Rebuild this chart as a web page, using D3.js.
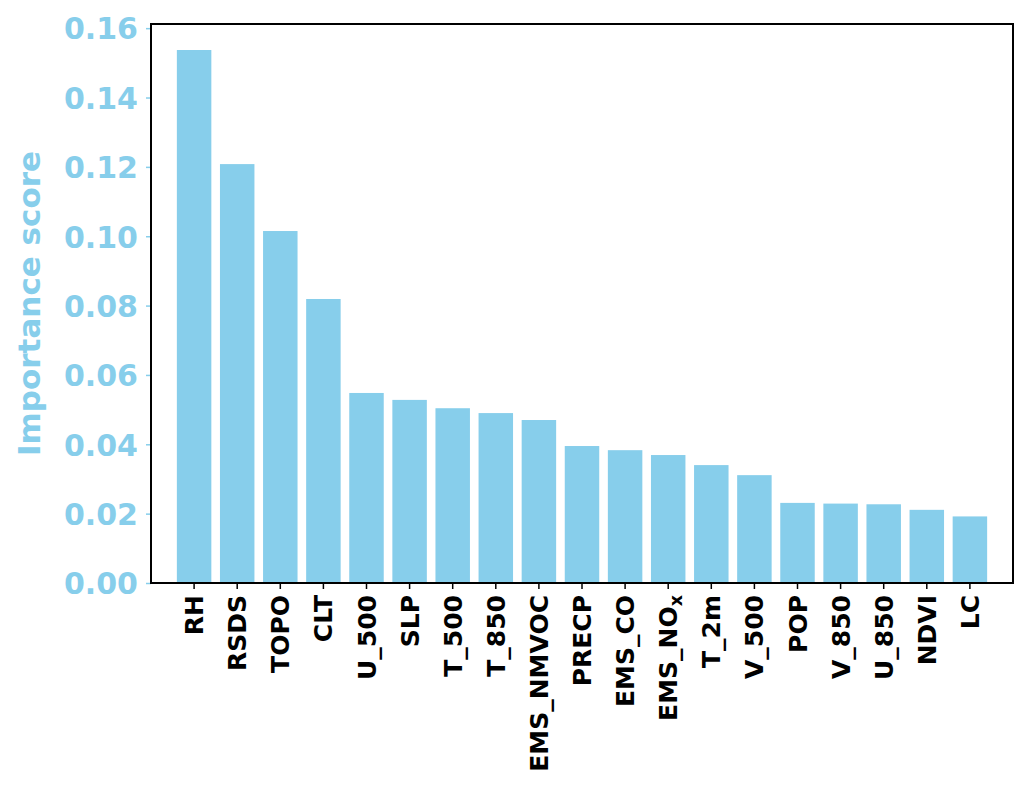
<!DOCTYPE html>
<html>
<head>
<meta charset="utf-8">
<script src="https://cdn.jsdelivr.net/npm/d3@7"></script>
<style>
  html, body { margin: 0; padding: 0; background: #fff; }
  svg { display: block; font-family: "DejaVu Sans", sans-serif; }
</style>
</head>
<body>
<svg id="chart" width="1033" height="793"></svg>
<script>
const categories = ["RH","RSDS","TOPO","CLT","U_500","SLP","T_500","T_850","EMS_NMVOC","PRECP","EMS_CO","EMS_NOx","T_2m","V_500","POP","V_850","U_850","NDVI","LC"];
const values = [0.1537,0.1208,0.1015,0.0819,0.0548,0.0528,0.0504,0.0490,0.0470,0.0395,0.0383,0.0369,0.0340,0.0311,0.0231,0.0229,0.0227,0.0211,0.0192];
const yTicks = [0.00,0.02,0.04,0.06,0.08,0.10,0.12,0.14,0.16];
const yLabel = "Importance score";

const color = "#87CEEB";
const mLeft = 151, mRight = 1013, mTop = 24, mBottom = 583;

const svg = d3.select("#chart");

const x = d3.scaleBand().domain(categories).range([mLeft, mRight]).paddingInner(0.2).paddingOuter(0.6);
const y = d3.scaleLinear().domain([0, 0.1612]).range([mBottom, mTop]);

// bars
svg.append("g").selectAll("rect").data(categories).join("rect")
  .attr("x", d => x(d))
  .attr("width", x.bandwidth())
  .attr("y", (d, i) => y(values[i]))
  .attr("height", (d, i) => y(0) - y(values[i]))
  .attr("fill", color);

// y axis
const yAxis = d3.axisLeft(y).tickValues(yTicks).tickFormat(d3.format(".2f")).tickSize(5).tickPadding(8);
const gy = svg.append("g").attr("transform", `translate(${mLeft},0)`).call(yAxis);
gy.select(".domain").remove();
gy.selectAll(".tick line").attr("stroke", color).attr("stroke-width", 1.5);
gy.selectAll(".tick text").attr("fill", color).attr("font-size", 30).attr("font-weight", "bold")
  .attr("font-family", "DejaVu Sans, sans-serif").attr("dy", "0.36em");

// x axis
const xAxis = d3.axisBottom(x).tickSize(6).tickFormat("");
const gx = svg.append("g").attr("transform", `translate(0,${mBottom})`).call(xAxis);
gx.select(".domain").remove();
gx.selectAll(".tick line").attr("stroke", "#000").attr("stroke-width", 1.5);

// x labels (rotated)
const labs = svg.append("g").selectAll("text").data(categories).join("text")
  .attr("transform", d => `translate(${x(d) + x.bandwidth() / 2},${mBottom + 12}) rotate(-90)`)
  .attr("text-anchor", "end")
  .attr("dy", "0.36em")
  .attr("font-size", 25)
  .attr("font-weight", "bold")
  .attr("fill", "#000");
labs.each(function(d) {
  const t = d3.select(this);
  if (d === "EMS_NOx") {
    t.append("tspan").text("EMS_NO");
    t.append("tspan").text("x").attr("font-size", 17.5).attr("dy", "0.3em");
  } else {
    t.text(d);
  }
});

// frame
svg.append("rect").attr("x", mLeft).attr("y", mTop).attr("width", mRight - mLeft).attr("height", mBottom - mTop)
  .attr("fill", "none").attr("stroke", "#000").attr("stroke-width", 2);

// y label
svg.append("text")
  .attr("transform", `translate(40,${(mTop + mBottom) / 2}) rotate(-90)`)
  .attr("text-anchor", "middle")
  .attr("font-size", 31)
  .attr("font-weight", "bold")
  .attr("fill", color)
  .text(yLabel);
</script>
</body>
</html>
